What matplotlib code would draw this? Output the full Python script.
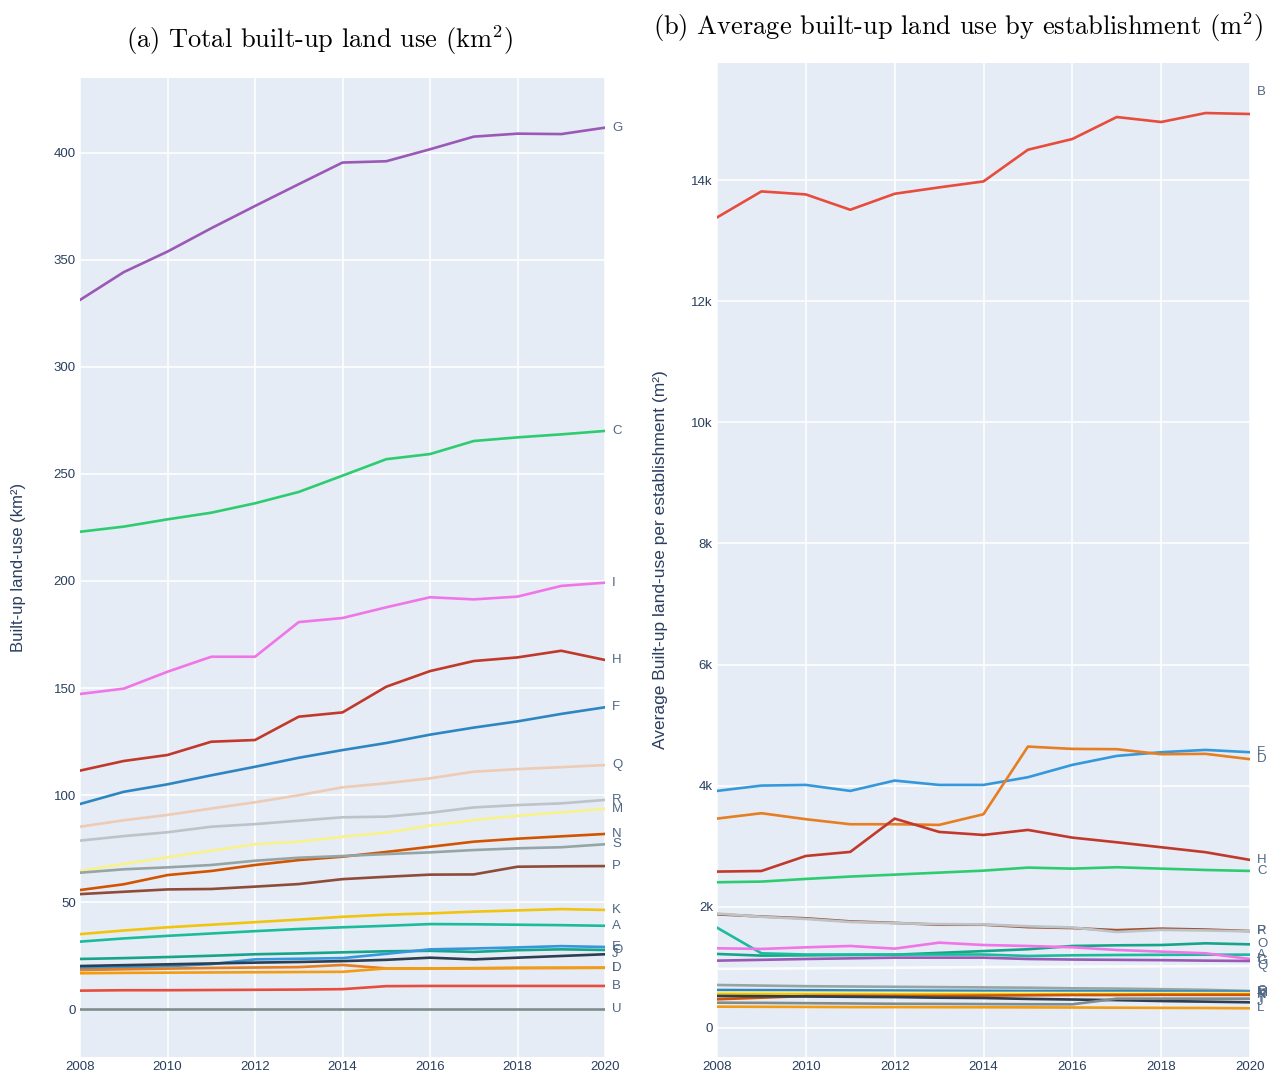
import matplotlib
matplotlib.use("Agg")
import matplotlib.pyplot as plt
from matplotlib.ticker import FuncFormatter, MultipleLocator

plt.rcParams["mathtext.fontset"] = "cm"
plt.rcParams["axes.unicode_minus"] = False

years = list(range(2008, 2021))

# (a) total built-up land use, km2
total_names = ["G", "C", "I", "H", "F", "Q", "R", "M", "N", "S", "P",
               "K", "A", "O", "E", "J", "D", "L", "B", "U"]
total_G = [331.3, 344.3, 353.9, 364.8, 375.2, 385.4, 395.5, 396.1, 401.7, 407.6, 409.0, 408.8, 411.8]
total_C = [223.0, 225.4, 228.8, 231.9, 236.3, 241.6, 249.2, 256.9, 259.3, 265.4, 267.1, 268.5, 270.1]
total_I = [147.2, 149.7, 157.6, 164.6, 164.6, 180.8, 182.7, 187.7, 192.4, 191.4, 192.7, 197.7, 199.2]
total_H = [111.4, 115.9, 118.7, 124.9, 125.7, 136.6, 138.6, 150.6, 157.9, 162.6, 164.3, 167.4, 163.1]
total_F = [95.8, 101.5, 105.0, 109.2, 113.2, 117.4, 121.0, 124.3, 128.2, 131.5, 134.4, 137.9, 141.0]
total_Q = [85.2, 88.2, 90.7, 93.7, 96.6, 99.9, 103.6, 105.5, 107.8, 110.9, 112.1, 113.0, 114.0]
total_R = [78.7, 80.8, 82.6, 85.2, 86.4, 88.0, 89.6, 89.9, 91.7, 94.2, 95.3, 96.1, 97.7]
total_M = [64.5, 67.8, 70.9, 74.0, 77.0, 78.2, 80.5, 82.4, 85.7, 88.3, 90.3, 91.9, 93.5]
total_N = [55.6, 58.3, 62.6, 64.5, 67.3, 69.6, 71.2, 73.4, 75.8, 78.2, 79.6, 80.7, 81.8]
total_S = [63.7, 65.3, 66.2, 67.3, 69.3, 70.7, 71.5, 72.4, 73.2, 74.3, 75.1, 75.6, 77.0]
total_P = [53.7, 54.8, 55.9, 56.1, 57.2, 58.4, 60.7, 61.8, 62.8, 62.9, 66.5, 66.7, 66.8]
total_K = [35.0, 36.7, 38.2, 39.4, 40.6, 41.8, 43.1, 44.1, 44.7, 45.5, 46.1, 46.7, 46.3]
total_A = [31.5, 33.0, 34.2, 35.3, 36.4, 37.4, 38.2, 38.9, 39.7, 39.6, 39.4, 39.2, 38.9]
total_O = [23.4, 23.8, 24.3, 24.9, 25.6, 26.0, 26.5, 27.0, 27.2, 26.7, 27.5, 27.9, 27.6]
total_E = [19.0, 19.5, 20.0, 21.0, 23.2, 23.5, 23.8, 25.8, 27.9, 28.3, 28.8, 29.4, 29.0]
total_J = [20.1, 20.5, 20.9, 21.3, 21.7, 22.0, 22.4, 23.0, 24.0, 23.2, 24.0, 24.8, 25.6]
total_D = [18.2, 18.6, 18.9, 19.2, 19.4, 19.6, 20.6, 19.0, 19.0, 19.1, 19.2, 19.2, 19.3]
total_L = [16.7, 16.9, 17.0, 17.1, 17.2, 17.3, 17.4, 19.0, 19.0, 19.0, 19.2, 19.3, 19.3]
total_B = [8.6, 8.8, 8.8, 8.9, 9.0, 9.1, 9.3, 10.7, 10.8, 10.8, 10.8, 10.8, 10.8]
total_U = [0] * 13
total_values = [total_G, total_C, total_I, total_H, total_F, total_Q, total_R, total_M,
                total_N, total_S, total_P, total_K, total_A, total_O, total_E, total_J,
                total_D, total_L, total_B, total_U]

# (b) average built-up land use per establishment, m2
avg_names = ["B", "F", "D", "H", "C", "P", "R", "O", "A", "I", "G", "Q",
             "S", "E", "M", "K", "N", "J", "T", "L"]
avg_B = [13382, 13812, 13762, 13509, 13773, 13878, 13977, 14500, 14677, 15040, 14958, 15106, 15090]
avg_F = [3914, 4002, 4013, 3914, 4085, 4013, 4013, 4140, 4344, 4492, 4553, 4591, 4553]
avg_D = [3457, 3546, 3447, 3364, 3364, 3353, 3529, 4646, 4608, 4603, 4520, 4526, 4438]
avg_H = [2582, 2592, 2840, 2907, 3457, 3237, 3187, 3270, 3143, 3066, 2984, 2902, 2775]
avg_C = [2406, 2417, 2461, 2500, 2532, 2565, 2598, 2648, 2631, 2654, 2631, 2609, 2593]
avg_P = [1877, 1840, 1811, 1760, 1735, 1705, 1705, 1665, 1650, 1615, 1640, 1625, 1600]
avg_R = [1890, 1835, 1800, 1750, 1730, 1715, 1710, 1680, 1660, 1585, 1620, 1610, 1595]
avg_O = [1222, 1195, 1200, 1205, 1210, 1240, 1270, 1300, 1354, 1365, 1370, 1398, 1381]
avg_A = [1657, 1233, 1213, 1213, 1213, 1213, 1213, 1189, 1200, 1205, 1208, 1210, 1211]
avg_I = [1316, 1305, 1332, 1354, 1310, 1409, 1370, 1354, 1332, 1288, 1261, 1233, 1139]
avg_G = [1112, 1125, 1139, 1150, 1161, 1161, 1161, 1139, 1130, 1125, 1120, 1112, 1106]
avg_Q = [975, 980, 985, 990, 995, 1000, 1005, 1008, 1012, 1015, 1018, 1021, 1024]
avg_S = [710, 700, 690, 685, 680, 675, 670, 665, 655, 650, 640, 630, 611]
avg_E = [627, 625, 623, 620, 618, 615, 613, 610, 608, 606, 604, 602, 600]
avg_M = [583, 582, 581, 580, 580, 579, 578, 578, 577, 577, 576, 576, 575]
avg_K = [560, 560, 558, 558, 556, 556, 555, 555, 556, 557, 558, 559, 560]
avg_N = [474, 500, 528, 530, 530, 530, 535, 540, 545, 545, 548, 548, 548]
avg_J = [528, 525, 520, 515, 510, 500, 495, 480, 470, 460, 445, 435, 424]
avg_T = [418, 415, 410, 405, 400, 398, 395, 392, 391, 484, 484, 484, 484]
avg_L = [352, 350, 348, 345, 345, 343, 342, 340, 338, 335, 332, 330, 325]
avg_values = [avg_B, avg_F, avg_D, avg_H, avg_C, avg_P, avg_R, avg_O, avg_A, avg_I,
              avg_G, avg_Q, avg_S, avg_E, avg_M, avg_K, avg_N, avg_J, avg_T, avg_L]

total_colors = {"G": "#9b59b6", "C": "#2ecc71", "I": "#f075e6", "H": "#c0392b",
                "F": "#2e86c1", "Q": "#edcbb5", "R": "#bdc3c7", "M": "#f9f28c",
                "N": "#d35400", "S": "#95a5a6", "P": "#8e4b3a", "K": "#f1c40f",
                "A": "#1abc9c", "O": "#17a589", "E": "#3498db", "J": "#2c3e50",
                "D": "#e67e22", "L": "#f39c12", "B": "#e74c3c", "U": "#7f8c8d"}
avg_colors = dict(total_colors)
avg_colors.update({"F": "#3498db", "E": "#2e86c1", "Q": "#fbfcfc", "P": "#a0522d",
                   "T": "#7f8c8d"})

BG = "#e5ecf6"
TXT = "#2a3f5f"
FONT = "Liberation Sans"

fig = plt.figure(figsize=(12.68, 10.75), dpi=100)
ax1 = fig.add_axes([80 / 1268, 1 - 1057 / 1075, 525 / 1268, 979 / 1075])
ax2 = fig.add_axes([717 / 1268, 1 - 1057 / 1075, 533 / 1268, 994 / 1075])


def style(ax):
    ax.set_facecolor(BG)
    for s in ax.spines.values():
        s.set_visible(False)
    ax.grid(True, color="white", linewidth=1.1)
    ax.set_axisbelow(True)
    ax.tick_params(length=0, labelsize=9.5, labelcolor=TXT, pad=3)
    for lab in ax.get_xticklabels() + ax.get_yticklabels():
        lab.set_fontfamily(FONT)
    ax.set_xlim(2008, 2020)
    ax.xaxis.set_major_locator(MultipleLocator(2))


def draw(ax, names, values, colors, nudge={}):
    for name, vals in zip(names, values):
        ax.plot(years, vals, color=colors[name], linewidth=1.9, solid_joinstyle="round")
        ax.annotate(name, (years[-1], vals[-1]), xytext=(5, nudge.get(name, 0)),
                    textcoords="offset points", va="center", ha="left", fontsize=9.5,
                    color="#506784", fontfamily=FONT, annotation_clip=False)


draw(ax1, total_names, total_values, total_colors)
ax1.set_ylim(-22.4, 435)
ax1.yaxis.set_major_locator(MultipleLocator(50))
style(ax1)
ax1.set_ylabel("Built-up land-use (km²)", fontsize=12, color=TXT,
               fontfamily=FONT, labelpad=20)

draw(ax2, avg_names, avg_values, avg_colors, nudge={"B": 16})
ax2.set_ylim(-479, 15932)
ax2.yaxis.set_major_locator(MultipleLocator(2000))
ax2.yaxis.set_major_formatter(FuncFormatter(lambda v, p: "0" if v == 0 else f"{int(v / 1000)}k"))
style(ax2)
ax2.set_ylabel("Average Built-up land-use per establishment (m²)", fontsize=12.5,
               color=TXT, fontfamily=FONT, labelpad=17)

fig.text(320 / 1268, 1 - 40 / 1075, r"(a) Total built-up land use (km$^2$)",
         ha="center", va="center", fontsize=19, fontfamily="cmr10")
fig.text(958 / 1268, 1 - 27 / 1075, r"(b) Average built-up land use by establishment (m$^2$)",
         ha="center", va="center", fontsize=19, fontfamily="cmr10")

fig.savefig("out.png", dpi=100, facecolor="white")
